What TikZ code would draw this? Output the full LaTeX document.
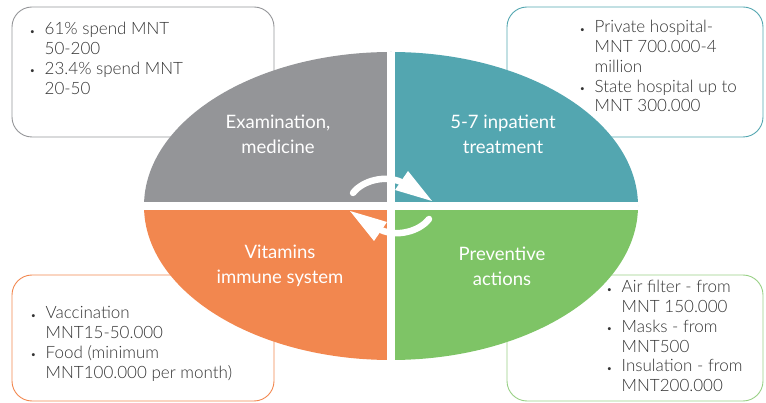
\documentclass[tikz,border=0pt]{standalone}
\usepackage{fontspec}
\setmainfont{Lato Light}
\newfontfamily\labelfont{Lato}
\definecolor{qgray}{HTML}{949598}
\definecolor{qteal}{HTML}{53A6B0}
\definecolor{qorange}{HTML}{F2874F}
\definecolor{qgreen}{HTML}{7EC466}
\definecolor{txt}{HTML}{333333}
\newcommand{\bul}{\makebox[14.5pt][l]{\raisebox{0.5pt}{\labelfont\footnotesize\textbullet}}}
\begin{document}
\begin{tikzpicture}[x=1pt,y=-1pt,
  infobox/.style={rounded corners=20pt, line width=0.9pt},
  infotext/.style={anchor=base west, inner sep=0pt, text=txt, font=\fontsize{17}{19.7}\selectfont},
  quadlabel/.style={anchor=center, align=center, text=white, inner sep=0pt, font=\labelfont\fontsize{18.5}{25}\selectfont},
  cyclearrow/.style={draw=white, line width=6.5pt, line cap=round}]
\useasboundingbox (0,0) rectangle (766,403);
% boxes
\draw[infobox, draw=qgray] (12,7) rectangle (274,137);
\draw[infobox, draw=qteal] (507,7) rectangle (763,137);
\draw[infobox, draw=qorange] (12,275) rectangle (274,401);
\draw[infobox, draw=qgreen!80!white] (507,275) rectangle (763,401);
% ellipse quadrants
\begin{scope}
\clip (391,206) ellipse [x radius=247, y radius=154];
\fill[qgray] (391,206) rectangle (130,40);
\fill[qteal] (391,206) rectangle (650,40);
\fill[qorange] (391,206) rectangle (130,370);
\fill[qgreen] (391,206) rectangle (650,370);
\fill[white] (387,40) rectangle (395,370);
\fill[white] (130,202) rectangle (650,210);
\end{scope}
% arrows
\draw[cyclearrow] (353,193) .. controls (363,180) and (386,175) .. (401,182);
\fill[white] (408,171) -- (432,201) -- (395,190) -- cycle;
\draw[cyclearrow] (429,219) .. controls (419,232) and (396,237) .. (381,230);
\fill[white] (374,241) -- (350,211) -- (387,222) -- cycle;
% labels
\node[quadlabel] (exam) at (278,134) {Examination,\\medicine};
\node[quadlabel] (inpat) at (503,134) {5-7 inpatient\\treatment};
\node[quadlabel] (vit) at (280,266) {Vitamins\\immune system};
\node[quadlabel] (prev) at (502,266) {Preventive\\actions};
% texts
\node[infotext] (t1) at (30,35) {\begin{tabular}[t]{@{}l@{}l@{}}
\bul & 61\% spend MNT\\ & 50-200\\ \bul & 23.4\% spend MNT\\ & 20-50\end{tabular}};
\node[infotext] (t2) at (580,33) {\begin{tabular}[t]{@{}l@{}l@{}}
\bul & Private hospital-\\ & MNT 700.000-4\\ & million\\ \bul & State hospital up to\\ & MNT 300.000\end{tabular}};
\node[infotext] (t3) at (31,319) {\begin{tabular}[t]{@{}l@{}l@{}}
\bul & Vaccination\\ & MNT15-50.000\\ \bul & Food (minimum\\ & MNT100.000 per month)\end{tabular}};
\node[infotext] (t4) at (607,293) {\begin{tabular}[t]{@{}l@{}l@{}}
\bul & Air filter - from\\ & MNT 150.000\\ \bul & Masks - from\\ & MNT500\\ \bul & Insulation - from\\ & MNT200.000\end{tabular}};
\end{tikzpicture}
\end{document}
